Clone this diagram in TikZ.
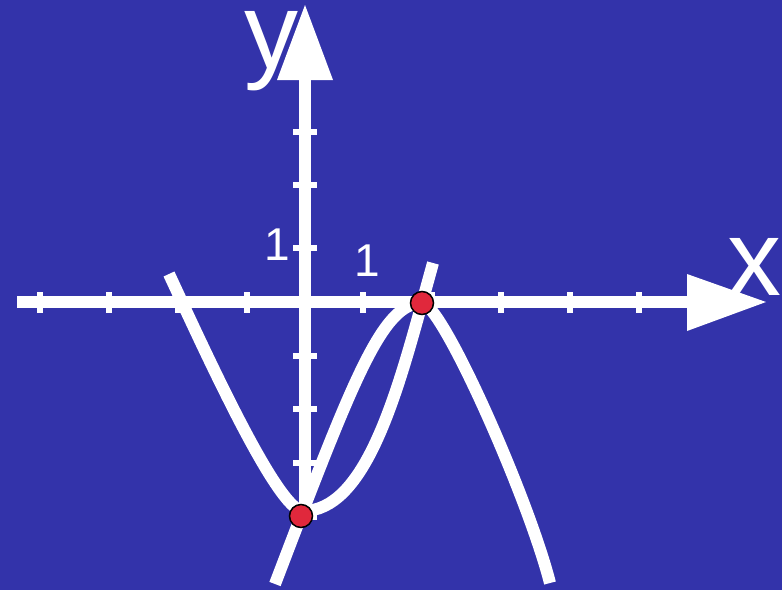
\documentclass[tikz,border=0pt]{standalone}
\usepackage{fontspec}
\setmainfont{Liberation Sans}
\definecolor{bg}{RGB}{51,51,170}
\definecolor{dotred}{RGB}{224,40,60}
\begin{document}
\begin{tikzpicture}[x=1pt,y=-1pt,
  axis/.style={white,line width=11.5pt},
  tickmark/.style={white,line width=6pt},
  curve/.style={white,line width=12pt,line cap=butt,line join=round},
  pt/.style={circle,fill=dotred,draw=black,line width=1.5pt,minimum size=23pt,inner sep=0pt},
  lab/.style={white,inner sep=0pt,anchor=base}]
\fill[bg] (0,0) rectangle (782,590);
\useasboundingbox (0,0) rectangle (782,590);
% axes
\coordinate (xs) at (17,302);
\coordinate (xe) at (690,302);
\coordinate (ys) at (305,522);
\coordinate (ye) at (305,78);
\draw[axis] (xs) -- (xe);
\fill[white] (687,274) -- (766,302) -- (687,331) -- cycle;
\draw[axis] (ys) -- (ye);
\fill[white] (277,80) -- (305,5) -- (333,80) -- cycle;
% ticks
\foreach \x in {40,109,178,247,363,432,501,570,639}
  \draw[tickmark] (\x,292) -- (\x,313);
\foreach \y in {132,185,248,356,409,463,517}
  \draw[tickmark] (293,\y) -- (317,\y);
% curve A
\coordinate (a0) at (169,274);
\coordinate (a1) at (303,511);
\coordinate (a2) at (422,303);
\coordinate (a3) at (433,263);
\draw[curve] (a0) .. controls (208,358) and (278,511) .. (a1)
  .. controls (363,511) and (394.5,403) .. (a2) -- (a3);
% curve B
\coordinate (b0) at (275,584);
\coordinate (b1) at (422,303);
\coordinate (b2) at (550,583);
\draw[curve] (b0) .. controls (353,380) and (382,303) .. (b1)
  .. controls (442,303) and (528,497) .. (b2);
% points
\node[pt] (p1) at (301,516) {};
\node[pt] (p2) at (422,303) {};
% labels
\node[lab,font=\fontsize{108}{108}\selectfont] (ylab) at (271,68) {y};
\node[lab,font=\fontsize{108}{108}\selectfont] (xlab) at (754,295) {x};
\node[lab,font=\fontsize{46}{46}\selectfont] (one1) at (277,260) {1};
\node[lab,font=\fontsize{46}{46}\selectfont] (one2) at (367,276) {1};
\end{tikzpicture}
\end{document}
